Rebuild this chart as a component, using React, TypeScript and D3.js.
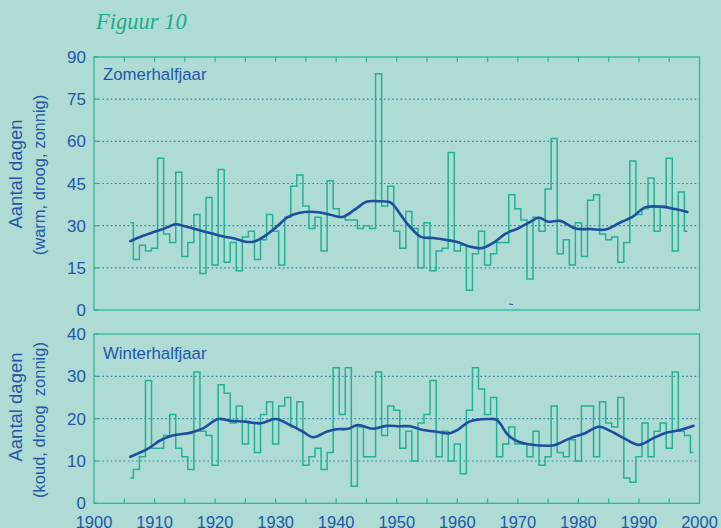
import React from "react";
import * as d3 from "d3";

// ---------- DATA ----------
const startYear = 1906;
// Zomerhalfjaar: number of warm, dry, sunny days (1906..1998)
const summerValues = [
  31, 18, 23, 21, 22, 54, 27, 24, 49, 19,
  24, 34, 13, 40, 16, 50, 17, 24, 14, 26,
  28, 18, 25, 34, 28, 16, 33, 44, 48, 37,
  29, 33, 21, 46, 36, 33, 32, 32, 29, 30,
  29, 84, 37, 44, 28, 22, 35, 29, 15, 31,
  14, 21, 22, 56, 21, 23, 7, 20, 28, 16,
  20, 24, 24, 41, 36, 32, 11, 33, 28, 43,
  61, 20, 25, 16, 31, 19, 39, 41, 27, 25,
  26, 17, 24, 53, 34, 36, 47, 28, 37, 54,
  21, 42, 28,
];
// Winterhalfjaar: number of cold, dry, sunny days (1906..1999)
const winterValues = [
  6, 8, 11, 29, 13, 13, 16, 21, 13, 11,
  8, 31, 17, 16, 9, 28, 26, 19, 23, 14,
  19, 12, 21, 24, 14, 23, 25, 18, 24, 9,
  11, 13, 8, 12, 32, 21, 32, 4, 18, 11,
  11, 31, 16, 23, 22, 13, 17, 10, 19, 21,
  29, 11, 17, 10, 14, 7, 22, 32, 27, 21,
  25, 11, 14, 18, 14, 14, 11, 17, 9, 11,
  23, 12, 11, 15, 10, 23, 23, 11, 24, 19,
  18, 25, 6, 5, 11, 19, 11, 17, 19, 13,
  31, 17, 16, 12,
];
// Smoothed trends
const summerTrendYears = [1906, 1908, 1910, 1912, 1913.5, 1915, 1917, 1919, 1921, 1923, 1925, 1926.5, 1928, 1930, 1932, 1934, 1937, 1939, 1941, 1943, 1945, 1947, 1949, 1950.5, 1952, 1954, 1956, 1958, 1960, 1962, 1964, 1966, 1968, 1970, 1972, 1973.5, 1975, 1977, 1979.5, 1982, 1984.5, 1987, 1989, 1991, 1994, 1996, 1998];
const summerTrendValues = [24.5, 26.3, 27.8, 29.3, 30.5, 29.8, 28.6, 27.5, 26.3, 25.5, 24.3, 24.4, 26, 29.3, 33, 34.6, 34.8, 33.9, 33.1, 35.6, 38.5, 38.7, 38.2, 34.3, 30, 26, 25.6, 25, 24.2, 22.6, 22, 24, 27.2, 29, 31.3, 32.8, 31.4, 31.7, 29, 28.8, 28.6, 31.2, 33.2, 36.5, 36.7, 35.9, 34.9];
const winterTrendYears = [1906, 1909, 1911, 1913, 1916, 1918, 1920.5, 1922.5, 1925, 1927.5, 1930, 1932.5, 1934.5, 1936.2, 1938.4, 1940, 1942, 1943.6, 1946, 1948.3, 1950.5, 1952.2, 1954.4, 1956.6, 1958.6, 1960, 1962, 1965, 1966.5, 1968.4, 1970, 1972, 1975, 1976, 1978.7, 1981, 1983.4, 1985, 1987.5, 1990, 1992.4, 1994.6, 1996.8, 1999];
const winterTrendValues = [11, 13, 14.9, 16, 16.7, 17.7, 19.9, 19.5, 19.3, 18.9, 19.9, 18.4, 16.9, 15.6, 16.9, 17.5, 17.6, 18.5, 17.6, 18.3, 18.2, 18.2, 17.3, 16.9, 16.5, 17.3, 19.3, 19.9, 19.7, 16.1, 14.6, 13.9, 13.6, 13.7, 15.4, 16.5, 18.1, 17.3, 15.4, 13.8, 15.4, 16.7, 17.3, 18.3];

const xTickLabels = [1900, 1910, 1920, 1930, 1940, 1950, 1960, 1970, 1980, 1990, 2000];
const xTickMarks = d3.range(1905, 2000, 5);
const summerTicks = [0, 15, 30, 45, 60, 75, 90];
const winterTicks = [0, 10, 20, 30, 40];

// ---------- STYLE ----------
const BG = "#aedcd5";
const TEAL = "#22b193";
const AXIS = "#2cb79b";
const BLUE = "#1d4f9e";
const TEXT = "#2456a6";
const GRID = "#2f82a0";
const FONT = "'Liberation Sans', Arial, sans-serif";

const W = 721;
const H = 528;
const x = d3.scaleLinear().domain([1900, 2000]).range([94, 699.5]);
const yTop = d3.scaleLinear().domain([0, 90]).range([310, 57]);
const yBot = d3.scaleLinear().domain([0, 40]).range([503.3, 334]);

type Pt = [number, number];

function Panel({
  values, trendYears, trendValues, y, ticks, ticksOnTop, label, labelY, titleMain, titleSub, titleMainY, titleSubY,
}: any) {
  const pts: Pt[] = values.map((v: number, i: number) => [startYear + i, v]);
  const step = d3.line<Pt>().x((d) => x(d[0])).y((d) => y(d[1])).curve(d3.curveStep);
  const trendPts: Pt[] = trendYears.map((yr: number, i: number) => [yr, trendValues[i]]);
  const smooth = d3.line<Pt>().x((d) => x(d[0])).y((d) => y(d[1])).curve(d3.curveCatmullRom.alpha(0.5));
  const [y0, y1] = y.range();
  const x0 = x(1900);
  const x1 = x(2000);
  const maxV = y.domain()[1];
  return (
    <g>
      {ticks.filter((t: number) => t > 0 && t < maxV).map((t: number) => (
        <line key={"g" + t} x1={x0} x2={x1} y1={y(t)} y2={y(t)} stroke={GRID} strokeWidth={1.1} strokeDasharray="1.6,2.6" />
      ))}
      <path d={step(pts) || ""} fill="none" stroke={TEAL} strokeWidth={1.5} />
      <path d={smooth(trendPts) || ""} fill="none" stroke={BLUE} strokeWidth={2.6} strokeLinecap="round" />
      <rect x={x0} y={y1} width={x1 - x0} height={y0 - y1} fill="none" stroke={AXIS} strokeWidth={1.3} />
      {ticks.map((t: number) => (
        <g key={"t" + t}>
          <line x1={x0} x2={x0 + 4} y1={y(t)} y2={y(t)} stroke={AXIS} strokeWidth={1.3} />
          <text x={86} y={y(t)} dy="0.36em" textAnchor="end" fontFamily={FONT} fontSize={17} fill={TEXT}>{t}</text>
        </g>
      ))}
      {xTickMarks.map((yr: number) => (
        <line key={"x" + yr} x1={x(yr)} x2={x(yr)}
          y1={ticksOnTop ? y1 : y0} y2={ticksOnTop ? y1 + 5 : y0 - 5}
          stroke={AXIS} strokeWidth={1.3} />
      ))}
      <text x={103} y={labelY} fontFamily={FONT} fontSize={16.8} fill={TEXT}>{label}</text>
      <text transform={`translate(22,${titleMainY}) rotate(-90)`} textAnchor="middle" fontFamily={FONT} fontSize={18.5} fill={TEXT}>{titleMain}</text>
      <text transform={`translate(45,${titleSubY}) rotate(-90)`} textAnchor="middle" fontFamily={FONT} fontSize={16.5} fill={TEXT} style={{ whiteSpace: "pre" }}>{titleSub}</text>
    </g>
  );
}

export default function App() {
  return (
    <div style={{ position: "absolute", left: 0, top: 0 }}>
      <svg width={W} height={H} style={{ display: "block", background: BG }}>
        <rect x={0} y={0} width={W} height={H} fill={BG} />
        <text x={96} y={29} fontFamily="'Liberation Serif', 'DejaVu Serif', serif" fontStyle="italic" fontSize={22.5} fill="#1fa98c">Figuur 10</text>
        <Panel values={summerValues} trendYears={summerTrendYears} trendValues={summerTrendValues}
          y={yTop} ticks={summerTicks} ticksOnTop={true} label="Zomerhalfjaar" labelY={80}
          titleMain="Aantal dagen" titleSub="(warm, droog, zonnig)" titleMainY={174} titleSubY={175} />
        <Panel values={winterValues} trendYears={winterTrendYears} trendValues={winterTrendValues}
          y={yBot} ticks={winterTicks} ticksOnTop={false} label="Winterhalfjaar" labelY={359}
          titleMain="Aantal dagen" titleSub="(koud, droog  zonnig)" titleMainY={407} titleSubY={420} />
        <line x1={509} x2={513} y1={304} y2={304.5} stroke={BLUE} strokeWidth={1.2} />
        {xTickLabels.map((yr) => (
          <text key={yr} x={x(yr)} y={528} textAnchor="middle" fontFamily={FONT} fontSize={16.5} fill={TEXT}>{yr}</text>
        ))}
      </svg>
    </div>
  );
}
